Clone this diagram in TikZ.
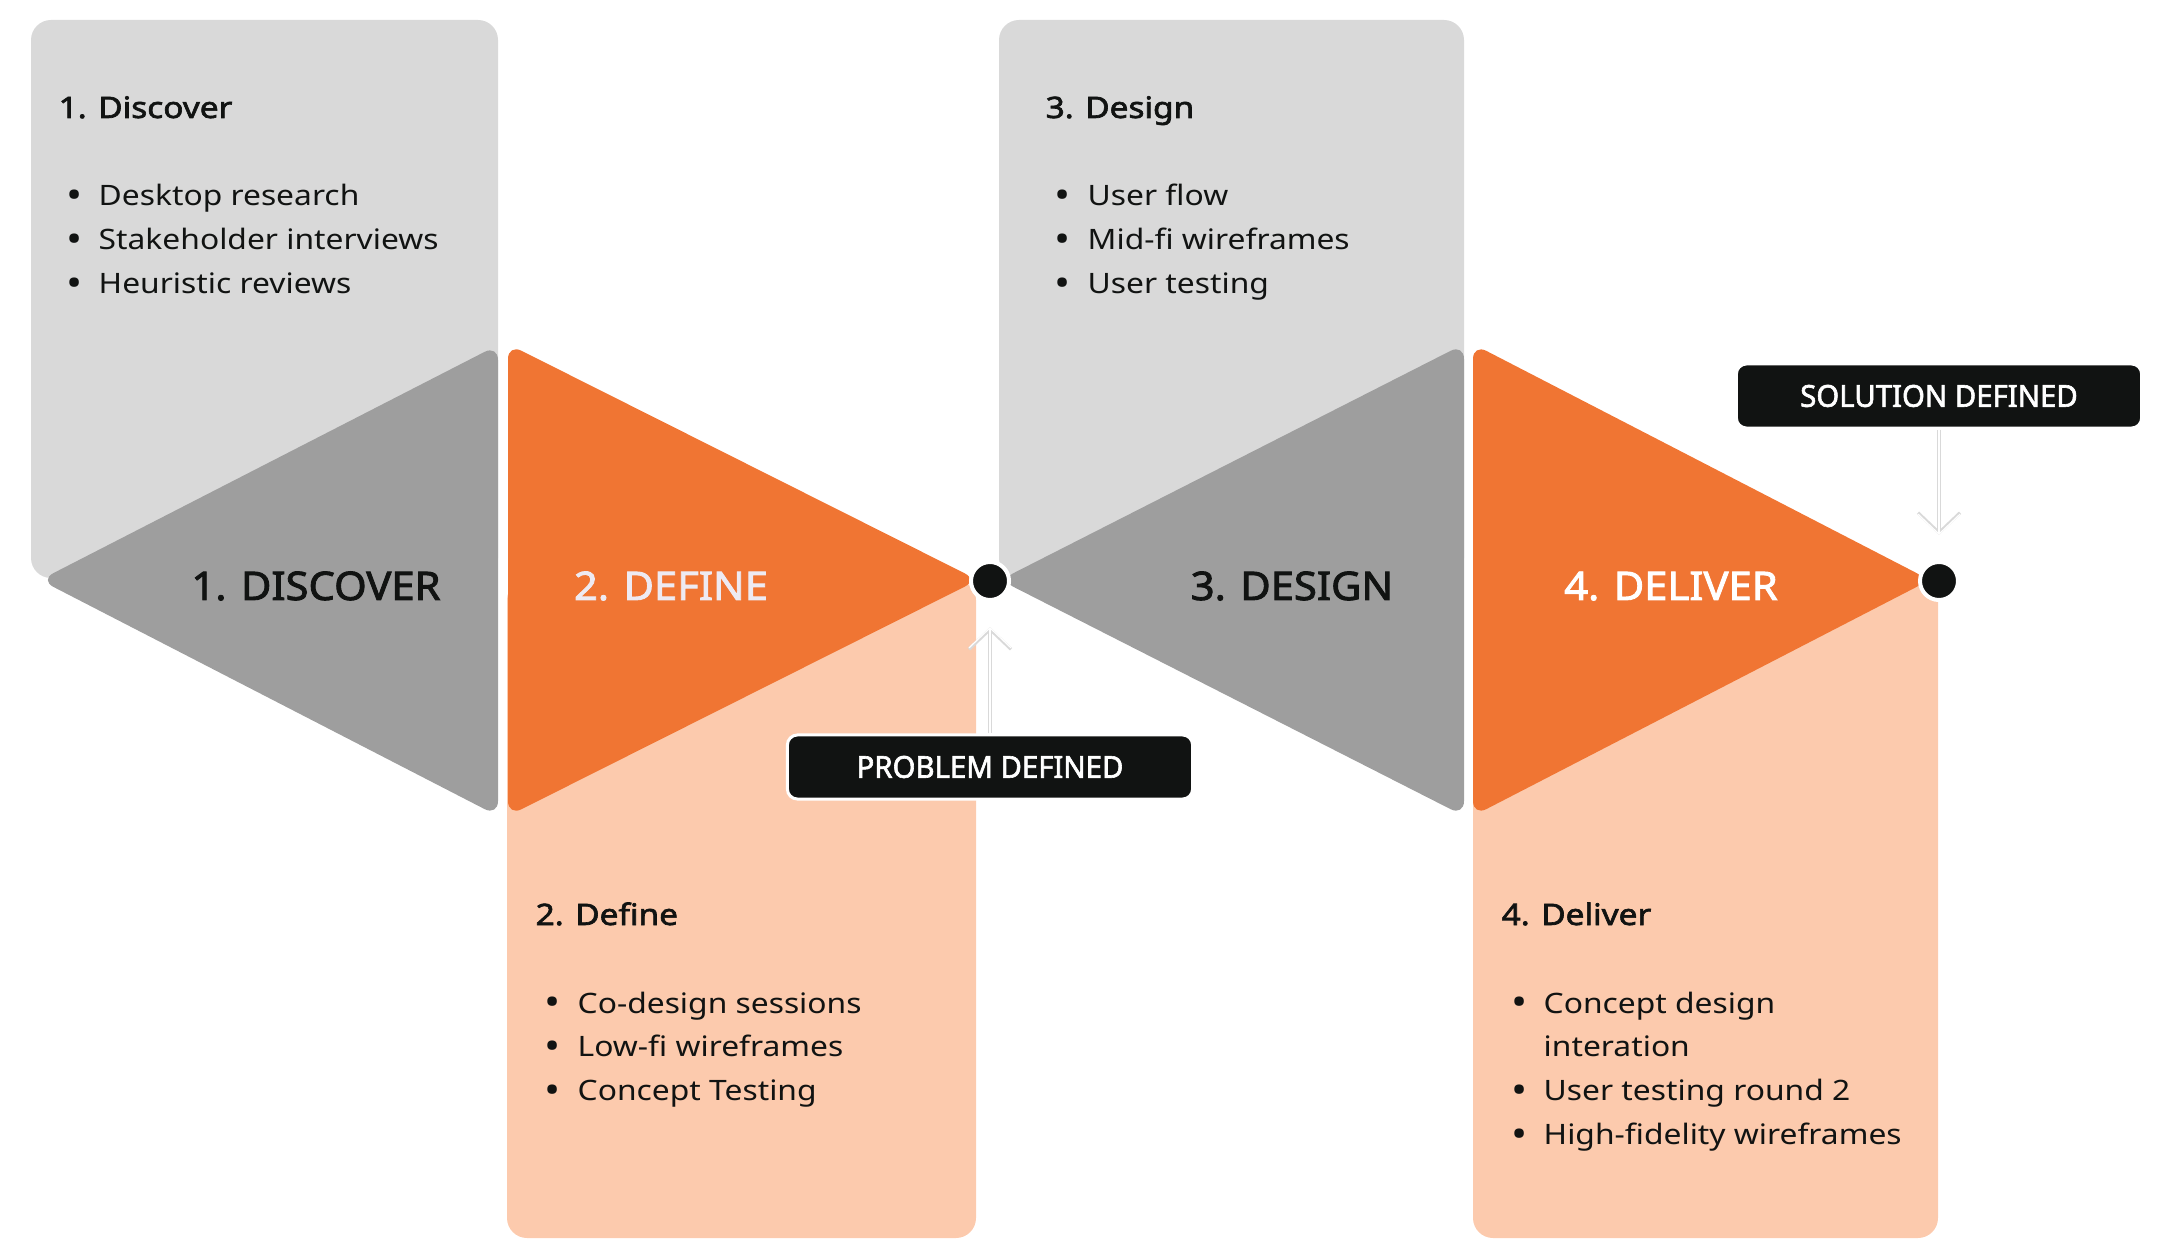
\documentclass[tikz,border=0pt]{standalone}
\usepackage{fontspec}
\usepackage{graphicx}
\setmainfont{Noto Sans}[FakeStretch=1.13, AutoFakeBold=2.2]
\newfontfamily\phasefont{Noto Sans}[FakeStretch=1.06, FakeBold=2.2]
\newfontfamily\tagfont{Noto Sans}[FakeStretch=0.97, FakeBold=2]
\newcommand\bigdot{\raisebox{-0.08em}{\scalebox{1.35}{\textbullet}}}
\usetikzlibrary{arrows.meta}

\definecolor{boxgray}{HTML}{D9D9D9}
\definecolor{trigray}{HTML}{9E9E9E}
\definecolor{triorange}{HTML}{F07533}
\definecolor{boxorange}{HTML}{FCCAAD}
\definecolor{ink}{HTML}{111312}
\definecolor{paleink}{HTML}{EEEAF2}

\begin{document}
\begin{tikzpicture}[x=0.01cm, y=-0.01cm,
                    card/.style={rounded corners=0.2cm},
                    wedge/.style={rounded corners=0.15cm},
                    phase/.style={anchor=base, inner sep=0, font=\phasefont\fontsize{11.2}{13}\selectfont},
                    head/.style={anchor=base west, inner sep=0, text=ink, font=\fontsize{8.4}{10}\selectfont\bfseries},
                    items/.style={anchor=base west, inner sep=0, text=ink, font=\fontsize{8}{12.5}\selectfont},
                    milestone/.style={circle, fill=ink, draw=white, line width=0.04cm, inner sep=0, minimum size=0.38cm},
                    tag/.style={rectangle, rounded corners=0.1cm, fill=ink, draw=white, line width=0.03cm,
                                minimum width=4.05cm, minimum height=0.64cm, text=white,
                                font=\tagfont\fontsize{8.6}{10}\selectfont},
                    pointer/.style={draw=white, line width=0.012cm, preaction={draw=black!15, line width=0.032cm},
                                    -{Straight Barb[length=0.2cm, width=0.42cm]}, shorten >=0.25cm}
]
\useasboundingbox (0,0) rectangle (2160,1258);

% cards behind the wedges
\fill[boxgray, card] (31,20) rectangle (498,578);
\fill[boxgray, card] (999,20) rectangle (1464,578);
\fill[boxorange, card] (507,580) rectangle (976,1238);
\fill[boxorange, card] (1473,580) rectangle (1938,1238);

% wedges
\fill[trigray, wedge] (40,580) -- (498,345) -- (498,816) -- cycle;
\fill[triorange, wedge] (508,344) -- (978,580) -- (508,816) -- cycle;
\fill[trigray, wedge] (1000,580) -- (1464,344) -- (1464,816) -- cycle;
\fill[triorange, wedge] (1473,344) -- (1930,580) -- (1473,816) -- cycle;

\node[phase, text=ink] (discover) at (316,600) {1. DISCOVER};
\node[phase, text=paleink] (define) at (671,600) {2. DEFINE};
\node[phase, text=ink] (design) at (1292,600) {3. DESIGN};
\node[phase, text=white] (deliver) at (1671,600) {4. DELIVER};

% card texts
\node[head] (discoverhead) at (58,118) {1. Discover};
\node[items] (discoverlist) at (66,206) {\begin{tabular}[t]{@{}p{0.32cm}@{}l@{}}
    \bigdot & Desktop research\\
    \bigdot & Stakeholder interviews\\
    \bigdot & Heuristic reviews
  \end{tabular}};
\node[head] (designhead) at (1045,118) {3. Design};
\node[items] (designlist) at (1054,206) {\begin{tabular}[t]{@{}p{0.33cm}@{}l@{}}
    \bigdot & User flow\\
    \bigdot & Mid-fi wireframes\\
    \bigdot & User testing
  \end{tabular}};
\node[head] (definehead) at (535,925) {2. Define};
\node[items] (definelist) at (544,1013) {\begin{tabular}[t]{@{}p{0.33cm}@{}l@{}}
    \bigdot & Co-design sessions\\
    \bigdot & Low-fi wireframes\\
    \bigdot & Concept Testing
  \end{tabular}};
\node[head] (deliverhead) at (1501,925) {4. Deliver};
\node[items] (deliverlist) at (1511,1013) {\begin{tabular}[t]{@{}p{0.32cm}@{}l@{}}
    \bigdot & Concept design\\
            & interation\\
    \bigdot & User testing round 2\\
    \bigdot & High-fidelity wireframes
  \end{tabular}};

% milestones
\node[milestone] (pdot) at (990,581) {};
\node[milestone] (sdot) at (1939,581) {};
\node[tag] (problem) at (990,767) {PROBLEM DEFINED};
\node[tag] (solution) at (1939,396) {SOLUTION DEFINED};
\draw[pointer] (problem) -- (pdot);
\draw[pointer] (solution) -- (sdot);

\end{tikzpicture}
\end{document}
